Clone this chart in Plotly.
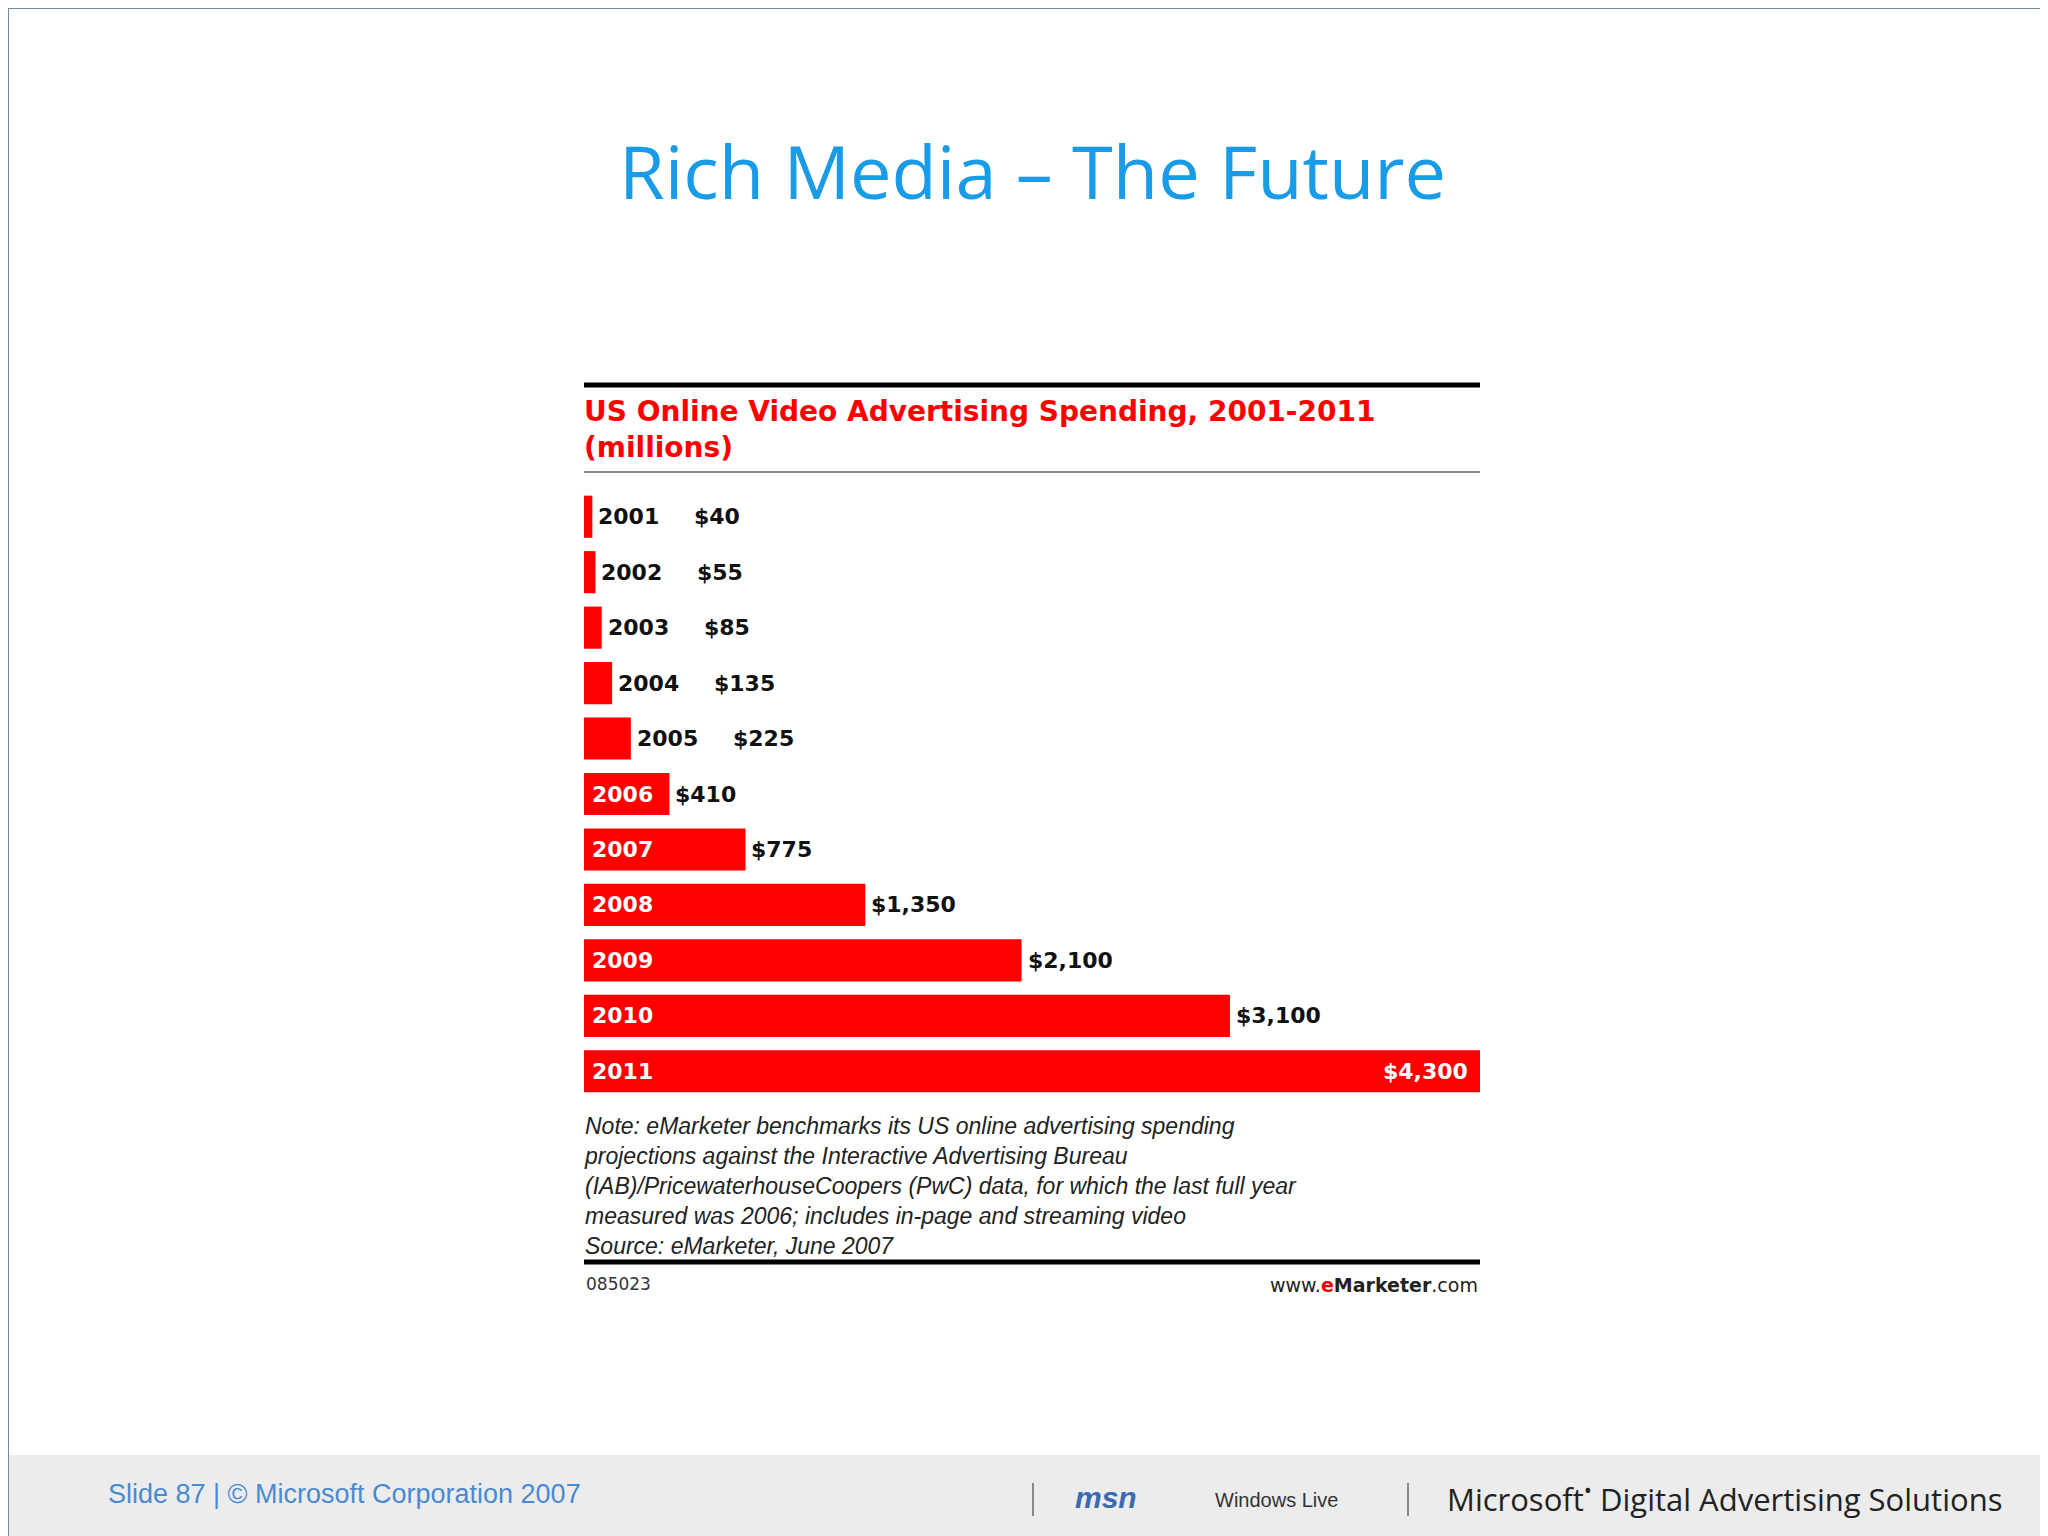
import plotly.graph_objects as go

years = ["2001","2002","2003","2004","2005","2006","2007","2008","2009","2010","2011"]
values = [40, 55, 85, 135, 225, 410, 775, 1350, 2100, 3100, 4300]
value_labels = ["$40","$55","$85","$135","$225","$410","$775","$1,350","$2,100","$3,100","$4,300"]

W, H = 2048, 1536
RED = "#ff0000"
pos = list(range(len(years)))
fig = go.Figure(go.Bar(x=values, y=pos, orientation="h", width=0.76,
                       marker=dict(color=RED, line=dict(width=0)), hoverinfo="skip"))

ann = []
F = "DejaVu Sans"
for i, (y, v, lab) in enumerate(zip(years, values, value_labels)):
    if v < 400:
        ann.append(dict(x=v, y=i, text="<b>%s</b>" % y, xanchor="left", xshift=4, showarrow=False,
                        font=dict(family=F, size=22, color="#111")))
        ann.append(dict(x=v, y=i, text="<b>%s</b>" % lab, xanchor="left", xshift=100, showarrow=False,
                        font=dict(family=F, size=22, color="#111")))
    else:
        ann.append(dict(x=0, y=i, text="<b>%s</b>" % y, xanchor="left", xshift=6, showarrow=False,
                        font=dict(family=F, size=22, color="white")))
        if y == "2011":
            ann.append(dict(x=v, y=i, text="<b>%s</b>" % lab, xanchor="right", xshift=-10, showarrow=False,
                            font=dict(family=F, size=22, color="white")))
        else:
            ann.append(dict(x=v, y=i, text="<b>%s</b>" % lab, xanchor="left", xshift=4, showarrow=False,
                            font=dict(family=F, size=22, color="#111")))

def P(x, y, text, size, color, family=F, xa="left", ya="middle", **kw):
    ann.append(dict(xref="paper", yref="paper", x=x / W, y=1 - y / H, text=text, showarrow=False,
                    xanchor=xa, yanchor=ya, font=dict(family=family, size=size, color=color), align="left", **kw))

P(1024, 163, "Rich Media – The Future", 74, "#1a9be8", family="Open Sans", xa="center")
P(574, 422, "<b>US Online Video Advertising Spending, 2001-2011<br>(millions)</b>", 28, RED)
P(574, 1178, "<i>Note: eMarketer benchmarks its US online advertising spending<br>projections against the Interactive Advertising Bureau<br>"
  "(IAB)/PricewaterhouseCoopers (PwC) data, for which the last full year<br>measured was 2006; includes in-page and streaming video<br>"
  "Source: eMarketer, June 2007</i>", 23, "#222", family="Liberation Sans")
P(576, 1276, "085023", 17, "#333")
P(1472, 1277, "www.<b><span style='color:#e00'>e</span>Marketer</b>.com", 19, "#222", xa="right")
P(98, 1486, "Slide 87 | © Microsoft Corporation 2007", 27, "#4a8ad0", family="Liberation Sans")
P(1065, 1489, "<b><i>msn</i></b>", 30, "#3a6ab0", family="Liberation Sans")
P(1205, 1492, "Windows Live", 20, "#333", family="Liberation Sans")
P(1437, 1489, "Microsoft<sup>•</sup> Digital Advertising Solutions", 31, "#222", family="Open Sans")

shapes = [
    dict(type="rect", xref="paper", yref="paper", x0=0, x1=1, y0=0, y1=1 - 1447 / H,
         fillcolor="#ececec", line=dict(width=0), layer="below"),
    dict(type="line", xref="paper", yref="paper", x0=576 / W, x1=1472 / W, y0=1 - 377 / H, y1=1 - 377 / H,
         line=dict(color="#000", width=5)),
    dict(type="line", xref="paper", yref="paper", x0=576 / W, x1=1472 / W, y0=1 - 464 / H, y1=1 - 464 / H,
         line=dict(color="#888", width=2)),
    dict(type="line", xref="paper", yref="paper", x0=576 / W, x1=1472 / W, y0=1 - 1254 / H, y1=1 - 1254 / H,
         line=dict(color="#000", width=5)),
    dict(type="line", xref="paper", yref="paper", x0=1025 / W, x1=1025 / W, y0=1 - 1475 / H, y1=1 - 1508 / H,
         line=dict(color="#888", width=2)),
    dict(type="line", xref="paper", yref="paper", x0=1400 / W, x1=1400 / W, y0=1 - 1475 / H, y1=1 - 1508 / H,
         line=dict(color="#888", width=2)),
    dict(type="rect", xref="paper", yref="paper", x0=0, x1=1, y0=0, y1=1,
         line=dict(color="#6a8aa8", width=2)),
]

fig.update_layout(
    width=W, height=H, margin=dict(l=0, r=0, t=0, b=0),
    paper_bgcolor="white", plot_bgcolor="rgba(0,0,0,0)", showlegend=False,
    xaxis=dict(domain=[576 / W, 1472 / W], range=[0, 4300], visible=False, fixedrange=True),
    yaxis=dict(domain=[1 - 1091 / H, 1 - 481 / H], range=[len(years) - 0.5, -0.5], visible=False),
    annotations=ann, shapes=shapes,
)
fig.write_html("out.html")
